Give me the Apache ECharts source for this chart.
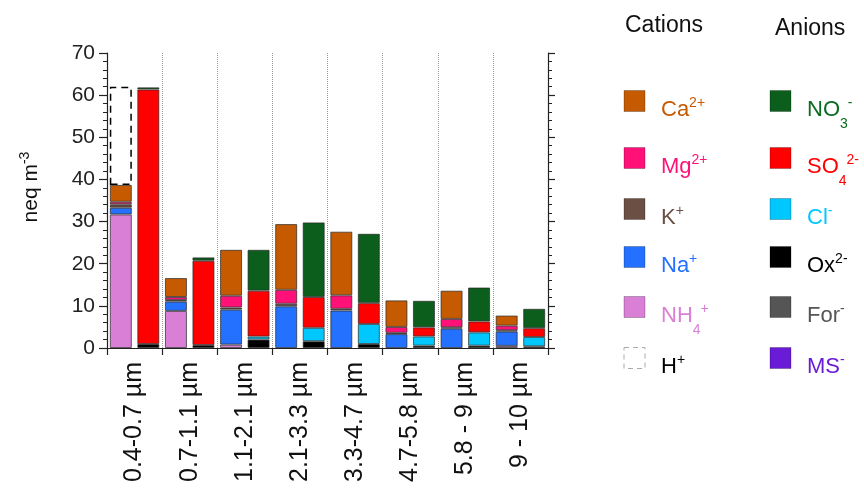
<!DOCTYPE html>
<html><head><meta charset="utf-8">
<script src="https://cdn.jsdelivr.net/npm/echarts@6/dist/echarts.min.js"></script>
<style>html,body{margin:0;padding:0;background:#fff}#c{width:864px;height:489px}</style>
</head><body><div id="c"></div>
<script>
const categories = ['0.4-0.7 µm','0.7-1.1 µm','1.1-2.1 µm','2.1-3.3 µm','3.3-4.7 µm','4.7-5.8 µm','5.8 - 9 µm','9 - 10 µm'];
// Cations (bottom to top)
const nh4   = [31.7, 8.8, 0.8, 0, 0, 0, 0, 0.5];
const na    = [1.6, 2.2, 8.3, 9.9, 8.9, 3.3, 4.6, 3.4];
const k     = [0.8, 0.4, 0.5, 0.6, 0.4, 0.3, 0.3, 0.3];
const mg    = [0.6, 0.7, 2.8, 3.3, 3.2, 1.4, 2.0, 1.1];
const ca    = [4.0, 4.5, 10.9, 15.6, 15.1, 6.3, 6.7, 2.4];
const hplus = [23.3, 0, 0, 0, 0, 0, 0, 0];
// Anions (bottom to top)
const ox    = [0.95, 0.7, 2.0, 1.6, 0.95, 0.55, 0.55, 0.4];
const forA  = [0, 0, 0, 0, 0, 0, 0, 0];
const msA   = [0, 0, 0, 0, 0, 0, 0, 0];
const cl    = [0, 0, 0.7, 3.2, 4.75, 2.2, 3.15, 2.2];
const so4   = [60.4, 20.0, 10.9, 7.3, 4.95, 2.15, 2.6, 2.1];
const no3   = [0.5, 0.8, 9.7, 17.7, 16.45, 6.3, 8.05, 4.6];
const yMin = 0, yMax = 70, yStep = 10;

const FONT = '"Liberation Sans", Arial, Helvetica, sans-serif';
const chart = echarts.init(document.getElementById('c'), null, {renderer: 'canvas'});
const nz = a => a.map(v => v === 0 ? null : v);
const border = {borderColor: 'rgba(40,40,40,0.7)', borderWidth: 1};

function barSeries(name, data, stack, color, extra) {
  return Object.assign({
    name, type: 'bar', stack, data: nz(data), barWidth: 22, barGap: '25%',
    itemStyle: Object.assign({color}, border), emphasis: {disabled: true}, animation: false
  }, extra || {});
}

const series = [
  barSeries('NH4+', nh4, 'cat', '#DA7FD6'),
  barSeries('Na+', na, 'cat', '#2470FF'),
  barSeries('K+', k, 'cat', '#6B4E44'),
  barSeries('Mg2+', mg, 'cat', '#FF1177'),
  barSeries('Ca2+', ca, 'cat', '#C55A00'),
  barSeries('H+', hplus, 'cat', 'rgba(0,0,0,0)', {itemStyle: {color: 'rgba(0,0,0,0)', borderColor: '#000', borderWidth: 1.5, borderType: [7, 5]}}),
  barSeries('Ox2-', ox, 'an', '#000000'),
  barSeries('For-', forA, 'an', '#555555'),
  barSeries('MS-', msA, 'an', '#6A1BD6'),
  barSeries('Cl-', cl, 'an', '#00C8FF'),
  barSeries('SO4 2-', so4, 'an', '#FF0000'),
  barSeries('NO3-', no3, 'an', '#0B5E1B')
];

// Legend
const sup = {fontSize: 14, padding: [0, 0, 14, 0], fontFamily: FONT};
const sub = {fontSize: 14, padding: [29, 0, 0, 0], fontFamily: FONT};
function legendItem(x, y, color, text, textColor, dashed) {
  const els = [];
  els.push({type: 'rect', x: x, y: y - 10.5, shape: {x: 0, y: 0, width: 21, height: 21},
    style: dashed ? {fill: 'none', stroke: '#aaa', lineWidth: 1, lineDash: [5, 4]} : {fill: color, stroke: 'rgba(0,0,0,0.25)', lineWidth: 1}});
  els.push({type: 'text', x: x + 37, y: y + 9,
    style: {text, fill: textColor, fontSize: 22, fontFamily: FONT, lineHeight: 40, verticalAlign: 'middle', align: 'left',
      rich: {sup: Object.assign({fill: textColor}, sup), sub: Object.assign({fill: textColor}, sub)}}});
  return els;
}
const rowY = [101, 158, 209, 257, 307, 358];
const cationLeg = [
  ['#C55A00', 'Ca{sup|2+}', '#C55A00'],
  ['#FF1177', 'Mg{sup|2+}', '#FF1177'],
  ['#6B4E44', 'K{sup|+}', '#6B4E44'],
  ['#2470FF', 'Na{sup|+}', '#2470FF'],
  ['#DA7FD6', 'NH{sub|4}{sup|+}', '#DA7FD6'],
  [null, 'H{sup|+}', '#000000', true]
];
const anionLeg = [
  ['#0B5E1B', 'NO{sub|3}{sup|-}', '#0B6B20'],
  ['#FF0000', 'SO{sub|4}{sup|2-}', '#FF0000'],
  ['#00C8FF', 'Cl{sup|-}', '#00C8FF'],
  ['#000000', 'Ox{sup|2-}', '#000000'],
  ['#555555', 'For{sup|-}', '#555555'],
  ['#6A1BD6', 'MS{sup|-}', '#6A1BD6']
];
let graphics = [];
cationLeg.forEach((d, i) => { graphics = graphics.concat(legendItem(624, rowY[i], d[0], d[1], d[2], d[3])); });
anionLeg.forEach((d, i) => { graphics = graphics.concat(legendItem(770, rowY[i], d[0], d[1], d[2], false)); });
graphics.push({type: 'text', x: 625, y: 26, style: {text: 'Cations', fill: '#111', fontSize: 23, fontFamily: FONT, verticalAlign: 'middle'}});
graphics.push({type: 'text', x: 775, y: 29, style: {text: 'Anions', fill: '#111', fontSize: 23, fontFamily: FONT, verticalAlign: 'middle'}});
graphics.push({type: 'text', x: 31, y: 187, rotation: Math.PI / 2,
  style: {text: 'neq m{sup|-3}', fill: '#111', fontSize: 21, fontFamily: FONT, lineHeight: 36, align: 'center', verticalAlign: 'middle',
    rich: {sup: {fontSize: 14, padding: [0, 0, 12, 0], fill: '#111', fontFamily: FONT}}}});

const axisLine = {show: true, lineStyle: {color: '#222', width: 1.2}};
const option = {
  animation: false,
  backgroundColor: '#fff',
  grid: {left: 107, right: 316, top: 53, bottom: 141, containLabel: false},
  xAxis: [
    {type: 'category', data: categories, position: 'bottom', boundaryGap: true,
      axisLine: axisLine,
      axisTick: {show: true, inside: false, length: 7, alignWithLabel: false, lineStyle: {color: '#222', width: 1.2}},
      splitLine: {show: true, lineStyle: {color: '#999', type: 'dotted', width: 1}},
      axisLabel: {rotate: 90, fontSize: 25, color: '#111', fontFamily: FONT, margin: 14}},
    {type: 'category', data: categories, position: 'top', axisLine: axisLine, axisTick: {show: false}, axisLabel: {show: false}, splitLine: {show: false}}
  ],
  yAxis: [
    {type: 'value', min: yMin, max: yMax, interval: yStep, position: 'left',
      axisLine: axisLine,
      axisTick: {show: true, inside: false, length: 8, lineStyle: {color: '#222', width: 1.2}},
      minorTick: {show: true, splitNumber: 5, length: 4, lineStyle: {color: '#222', width: 1}},
      splitLine: {show: false},
      axisLabel: {fontSize: 21, color: '#222', fontFamily: FONT, margin: 12}},
    {type: 'value', min: yMin, max: yMax, interval: yStep, position: 'right',
      axisLine: axisLine,
      axisTick: {show: true, inside: false, length: 7, lineStyle: {color: '#222', width: 1.2}},
      minorTick: {show: true, splitNumber: 5, length: 4, lineStyle: {color: '#222', width: 1}},
      splitLine: {show: false}, axisLabel: {show: false}}
  ],
  series,
  graphic: graphics
};
chart.setOption(option);
</script>
</body></html>
